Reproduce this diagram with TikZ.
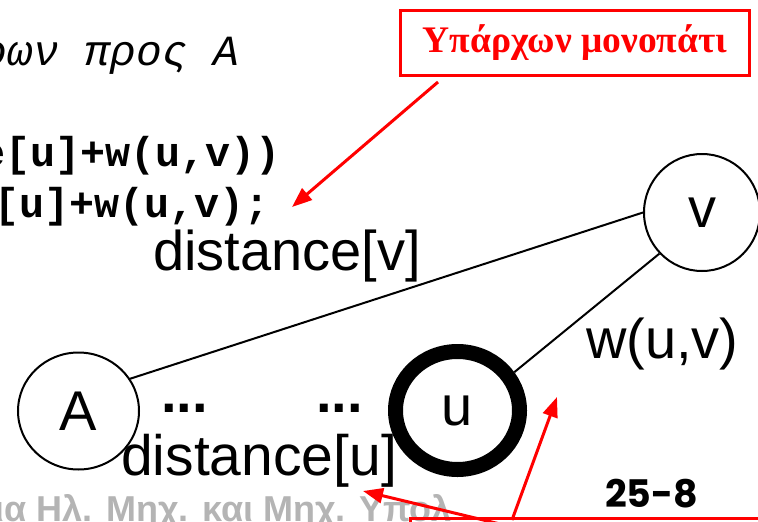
\documentclass[tikz,border=0pt]{standalone}
\usepackage{fontspec}
\setmainfont{Liberation Sans}
\newfontfamily\monof{Liberation Mono}
\newfontfamily\serf{Liberation Serif}
\newfontfamily\numf{Poppins}
\usetikzlibrary{arrows.meta,shapes.geometric}
\definecolor{footgrey}{RGB}{180,180,180}
\begin{document}
\begin{tikzpicture}[x=1pt,y=-1pt,
  vert/.style={ellipse,draw,line width=2pt,inner sep=0pt,font=\fontsize{56}{60}\selectfont},
  lbl/.style={inner sep=0pt,anchor=base west,font=\fontsize{56}{60}\selectfont},
  codeline/.style={inner sep=0pt,anchor=base east,font=\monof\bfseries\fontsize{41.7}{45}\selectfont},
  redarrow/.style={red,line width=3pt,-{Triangle[length=20pt,width=15pt]}},
  edge/.style={line width=2pt},
]
\useasboundingbox (0,0) rectangle (758,522);

% code fragments
\node[inner sep=0pt,anchor=base east,font=\monof\itshape\fontsize{43}{46}\selectfont] (hdr) at (240,65) {ρων προς A};
\node[codeline] (c1) at (281,166) {e[u]+w(u,v))};
\node[codeline] (c2) at (269.5,217) {[u]+w(u,v);};

% red callout box
\node[draw=red,line width=3pt,minimum width=349pt,minimum height=65pt,inner sep=0pt,
      text=red,font=\serf\bfseries\fontsize{37.5}{40}\selectfont] (path) at (575,43) {Υπάρχων μονοπάτι};

% graph nodes
\node[vert,minimum width=121pt,minimum height=117pt] (A) at (78.5,411) {A};
\node[vert,minimum width=116pt,minimum height=117pt] (v) at (702,212.5) {v};
\node[vert,line width=15pt,minimum width=124pt,minimum height=118pt] (u) at (457.5,410.5) {u};

\draw[edge] (A.32) -- (v.180);
\draw[edge] (u.34) -- (v.224);

% labels
\node[lbl] (dv) at (153,270) {distance[v]};
\node[lbl,font=\fontsize{57}{60}\selectfont] (du) at (121,475) {distance[u]};
\node[lbl] (w) at (586,358) {w(u,v)};
\node[lbl,font=\bfseries\fontsize{56}{60}\selectfont] (d1) at (161,412) {...};
\node[lbl,font=\bfseries\fontsize{56}{60}\selectfont] (d2) at (316,412) {...};

% footer
\node[inner sep=0pt,anchor=base east,text=footgrey,font=\bfseries\fontsize{36}{40}\selectfont] (foot) at (452,521) {ια Ηλ. Μηχ. και Μηχ. Υπολ};
\node[inner sep=0pt,anchor=base west,font=\numf\bfseries\fontsize{38}{40}\selectfont] (num) at (605,507) {25-8};

% bottom red box (mostly outside the frame)
\draw[red,line width=3pt] (410,518) rectangle (790,580);

% red arrows
\coordinate (t1s) at (438,82);
\coordinate (t1e) at (292,207);
\coordinate (b1s) at (500,524);
\coordinate (b1e) at (363,491);
\coordinate (b2s) at (512,520);
\coordinate (b2e) at (557,397);
\draw[redarrow] (t1s) -- (t1e);
\draw[redarrow] (b1s) -- (b1e);
\draw[redarrow] (b2s) -- (b2e);
\end{tikzpicture}
\end{document}
